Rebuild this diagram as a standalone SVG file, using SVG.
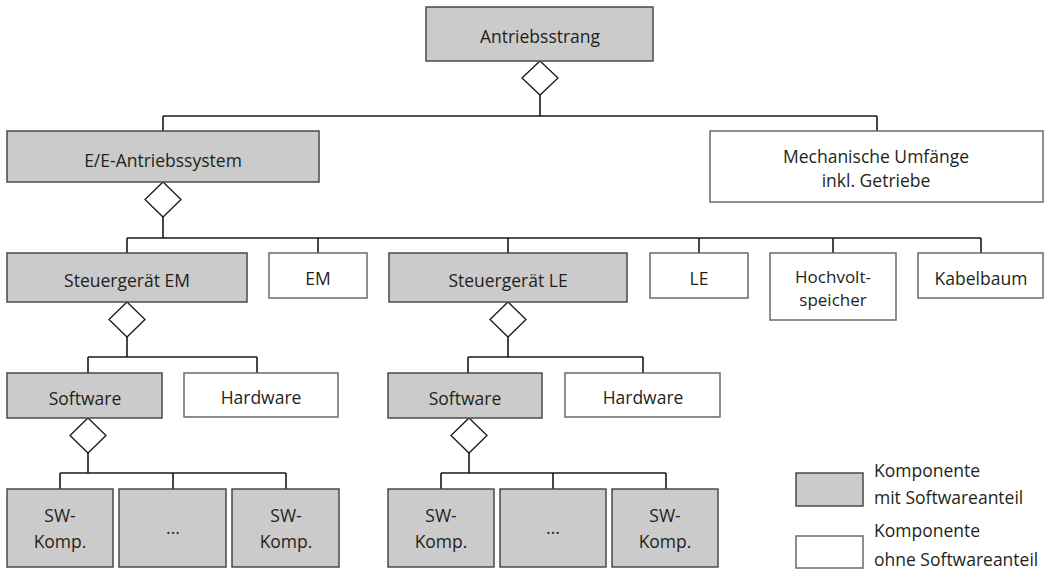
<svg xmlns="http://www.w3.org/2000/svg" width="1059" height="569" viewBox="0 0 1059 569">
<style>
.g{fill:#cbcbcb;stroke:#4a4a4a;stroke-width:1.5}
.w{fill:#fff;stroke:#6a6a6a;stroke-width:1.5}
.c{fill:none;stroke:#1a1a1a;stroke-width:1.6}
.d{fill:#fff;stroke:#1a1a1a;stroke-width:1.3}
text{font-family:"Open Sans","Noto Sans","Liberation Sans",sans-serif;font-size:17.5px;fill:#231f20;text-anchor:middle}
.l{text-anchor:start}
.s{font-size:17px}
</style>
<rect width="1059" height="569" fill="#fff"/>
<g id="connectors">
<path class="c" d="M540 95V116M163 116H877M163 116V131M877 116V131"/>
<polygon class="d" points="540,61 558,78 540,95 522,78"/>
<path class="c" d="M163 217V238M127 238H981M127 238V253M318 238V253M508 238V253M699 238V253M833 238V253M981 238V253"/>
<polygon class="d" points="163,182 181,199.5 163,217 145,199.5"/>
<path class="c" d="M127 337V357M88 357H257M88 357V373M257 357V373"/>
<polygon class="d" points="127,302 145,319.5 127,337 109,319.5"/>
<path class="c" d="M508 337V357M468 357H643M468 357V373M643 357V373"/>
<polygon class="d" points="508,302 526,319.5 508,337 490,319.5"/>
<path class="c" d="M88 453V473M60 473H286M60 473V489M173 473V489M286 473V489"/>
<polygon class="d" points="88,418 106,435.5 88,453 70,435.5"/>
<path class="c" d="M469 453V473M441 473H666M441 473V489M553 473V489M666 473V489"/>
<polygon class="d" points="469,418 487,435.5 469,453 451,435.5"/>
</g>
<g id="antriebsstrang"><rect class="g" x="426" y="7" width="227" height="54"/><text x="540" y="43">Antriebsstrang</text></g>
<g id="ee-antriebssystem"><rect class="g" x="7" y="131" width="312" height="51"/><text x="163" y="167">E/E-Antriebssystem</text></g>
<g id="mechanische-umfaenge"><rect class="w" x="710" y="131" width="333" height="71"/><text x="876" y="163">Mechanische Umfänge</text><text x="876" y="187">inkl. Getriebe</text></g>
<g id="steuergeraet-em"><rect class="g" x="7" y="253" width="240" height="49"/><text x="127" y="287">Steuergerät EM</text></g>
<g id="em"><rect class="w" x="269" y="253" width="98" height="45"/><text x="318" y="285">EM</text></g>
<g id="steuergeraet-le"><rect class="g" x="389" y="253" width="238" height="49"/><text x="508" y="287">Steuergerät LE</text></g>
<g id="le"><rect class="w" x="650" y="253" width="98" height="45"/><text x="699" y="285">LE</text></g>
<g id="hochvoltspeicher"><rect class="w" x="770" y="253" width="126" height="67"/><text class="s" x="833" y="282.5">Hochvolt-</text><text class="s" x="833" y="305.5">speicher</text></g>
<g id="kabelbaum"><rect class="w" x="918" y="253" width="125" height="45"/><text x="981" y="285">Kabelbaum</text></g>
<g id="software-em"><rect class="g" x="7" y="373" width="155" height="45"/><text x="85" y="405">Software</text></g>
<g id="hardware-em"><rect class="w" x="184" y="373" width="154" height="44"/><text x="261" y="404">Hardware</text></g>
<g id="software-le"><rect class="g" x="388" y="373" width="154" height="45"/><text x="465" y="405">Software</text></g>
<g id="hardware-le"><rect class="w" x="565" y="373" width="155" height="44"/><text x="643" y="404">Hardware</text></g>
<g id="sw-komp-em-1"><rect class="g" x="7" y="489" width="106" height="78"/><text x="60" y="522">SW-</text><text x="60" y="548">Komp.</text></g>
<g id="sw-dots-em"><rect class="g" x="119" y="489" width="107" height="78"/><text x="173" y="534">...</text></g>
<g id="sw-komp-em-2"><rect class="g" x="232" y="489" width="107" height="78"/><text x="286" y="522">SW-</text><text x="286" y="548">Komp.</text></g>
<g id="sw-komp-le-1"><rect class="g" x="388" y="489" width="106" height="78"/><text x="441" y="522">SW-</text><text x="441" y="548">Komp.</text></g>
<g id="sw-dots-le"><rect class="g" x="500" y="489" width="106" height="78"/><text x="553" y="534">...</text></g>
<g id="sw-komp-le-2"><rect class="g" x="612" y="489" width="106" height="78"/><text x="665" y="522">SW-</text><text x="665" y="548">Komp.</text></g>
<g id="legend">
<rect class="g" x="796" y="473" width="67" height="33"/>
<text class="l" x="874" y="477">Komponente</text><text class="l" x="874" y="504">mit Softwareanteil</text>
<rect class="w" x="796" y="536" width="67" height="32"/>
<text class="l" x="874" y="537">Komponente</text><text class="l" x="874" y="566">ohne Softwareanteil</text>
</g>
</svg>
